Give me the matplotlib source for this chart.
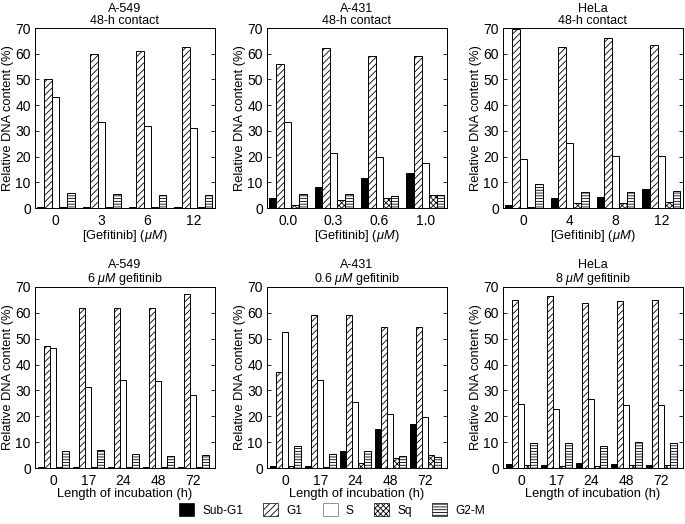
import matplotlib
matplotlib.use("Agg")
import matplotlib.pyplot as plt
import numpy as np
from matplotlib.patches import Patch

plt.rcParams['font.family'] = ['Liberation Sans', 'DejaVu Sans']
plt.rcParams['mathtext.fontset'] = 'custom'
plt.rcParams['mathtext.it'] = 'Liberation Sans:italic'
plt.rcParams['mathtext.rm'] = 'Liberation Sans'
plt.rcParams['hatch.linewidth'] = 0.6

phases = ["Sub-G1", "G1", "S", "Sq", "G2-M"]

# Top row: 48-h contact, dose series
p1_x = ["0", "3", "6", "12"]
p1_subg1 = [0.3, 0.5, 0.5, 0.4]
p1_g1 = [50.0, 60.0, 61.2, 62.5]
p1_s = [43.0, 33.3, 32.0, 31.2]
p1_sq = [0.3, 0.3, 0.5, 0.3]
p1_g2m = [6.0, 5.5, 5.2, 5.0]

p2_x = ["0.0", "0.3", "0.6", "1.0"]
p2_subg1 = [3.8, 8.3, 11.5, 13.5]
p2_g1 = [56.0, 62.3, 59.2, 59.0]
p2_s = [33.5, 21.3, 19.9, 17.4]
p2_sq = [1.2, 3.0, 3.8, 4.9]
p2_g2m = [5.5, 5.4, 4.8, 5.2]

p3_x = ["0", "4", "8", "12"]
p3_subg1 = [1.3, 3.7, 4.2, 7.3]
p3_g1 = [69.8, 62.8, 66.3, 63.3]
p3_s = [19.2, 25.2, 20.3, 20.1]
p3_sq = [0.4, 1.8, 2.0, 2.3]
p3_g2m = [9.3, 6.2, 6.2, 6.8]

# Bottom row: time series
time_x = ["0", "17", "24", "48", "72"]
p4_subg1 = [0.3, 0.3, 0.3, 0.3, 0.3]
p4_g1 = [47.2, 61.7, 61.7, 61.7, 67.2]
p4_s = [46.5, 31.3, 34.0, 33.7, 28.1]
p4_sq = [0.3, 0.3, 0.3, 0.3, 0.3]
p4_g2m = [6.5, 7.0, 5.5, 4.8, 5.2]

p5_subg1 = [0.8, 0.6, 6.5, 15.2, 17.2]
p5_g1 = [37.0, 59.1, 59.0, 54.7, 54.6]
p5_s = [52.6, 34.1, 25.4, 20.8, 19.6]
p5_sq = [0.8, 0.3, 2.1, 3.8, 4.9]
p5_g2m = [8.6, 5.5, 6.4, 4.6, 4.1]

p6_subg1 = [1.5, 1.0, 1.8, 1.5, 1.3]
p6_g1 = [64.8, 66.7, 64.0, 64.5, 64.8]
p6_s = [24.7, 22.8, 26.5, 24.5, 24.5]
p6_sq = [1.0, 0.8, 0.8, 1.0, 1.0]
p6_g2m = [9.8, 9.8, 8.7, 10.1, 9.8]

styles = [
    dict(facecolor="black", hatch=None),
    dict(facecolor="white", hatch="/////"),
    dict(facecolor="white", hatch=None),
    dict(facecolor="white", hatch="xxxxxx"),
    dict(facecolor="white", hatch="------"),
]

panels = [
    ("A-549\n48-h contact", p1_x, [p1_subg1, p1_g1, p1_s, p1_sq, p1_g2m], "dose"),
    ("A-431\n48-h contact", p2_x, [p2_subg1, p2_g1, p2_s, p2_sq, p2_g2m], "dose"),
    ("HeLa\n48-h contact", p3_x, [p3_subg1, p3_g1, p3_s, p3_sq, p3_g2m], "dose"),
    ("A-549\n6 $\\mathit{\\mu M}$ gefitinib", time_x, [p4_subg1, p4_g1, p4_s, p4_sq, p4_g2m], "time"),
    ("A-431\n0.6 $\\mathit{\\mu M}$ gefitinib", time_x, [p5_subg1, p5_g1, p5_s, p5_sq, p5_g2m], "time"),
    ("HeLa\n8 $\\mathit{\\mu M}$ gefitinib", time_x, [p6_subg1, p6_g1, p6_s, p6_sq, p6_g2m], "time"),
]

W, H = 685, 524
fig = plt.figure(figsize=(W / 100, H / 100), dpi=100)

col_left = [35, 267, 503]
col_w = 180
row_top = [28, 287]
row_bot = [208, 468]

for i, (title, xl, series, kind) in enumerate(panels):
    r, c = divmod(i, 3)
    l = col_left[c] / W
    b = 1 - row_bot[r] / H
    h = (row_bot[r] - row_top[r]) / H
    ax = fig.add_axes([l, b, col_w / W, h])
    n = len(xl)
    x = np.arange(n)
    bw = 0.165 if kind == "dose" else 0.175
    for k, (vals, st) in enumerate(zip(series, styles)):
        ax.bar(x + (k - 2) * bw, vals, width=bw, facecolor=st["facecolor"],
               hatch=st["hatch"], edgecolor="black", linewidth=0.7)
    if kind == "dose":
        ax.set_xlim(-0.45, n - 1 + 0.47)
        ax.set_xlabel("[Gefitinib] ($\\mathit{\\mu M}$)", fontsize=9.3, labelpad=0.5)
    else:
        ax.set_xlim(-0.52, n - 1 + 0.62)
        ax.set_xlabel("Length of incubation (h)", fontsize=9.3, labelpad=0.5)
    ax.set_ylim(0, 70)
    ax.set_yticks(np.arange(0, 71, 10))
    ax.set_xticks(x)
    ax.set_xticklabels(xl)
    ax.tick_params(axis="y", direction="in", length=3, width=0.6, right=True, labelsize=10, pad=3)
    ax.tick_params(axis="x", direction="in", length=0, labelsize=10, pad=4)
    ax.set_ylabel("Relative DNA content (%)", fontsize=9.3, labelpad=1)
    ax.set_title(title, fontsize=9, pad=3, linespacing=1.0)
    for s in ax.spines.values():
        s.set_linewidth(0.7)

handles = [Patch(facecolor=st["facecolor"], hatch=st["hatch"], edgecolor="black", linewidth=0.5)
           for st in styles]
handles[2] = Patch(facecolor="white", edgecolor="gray", linewidth=0.6)
fig.legend(handles, phases, loc="center", bbox_to_anchor=(332 / W, 1 - 510 / H), ncol=5,
           frameon=False, fontsize=8.6, handlelength=1.25, handleheight=1.25,
           columnspacing=1.7, handletextpad=0.7)

fig.savefig("out.png", dpi=100)
